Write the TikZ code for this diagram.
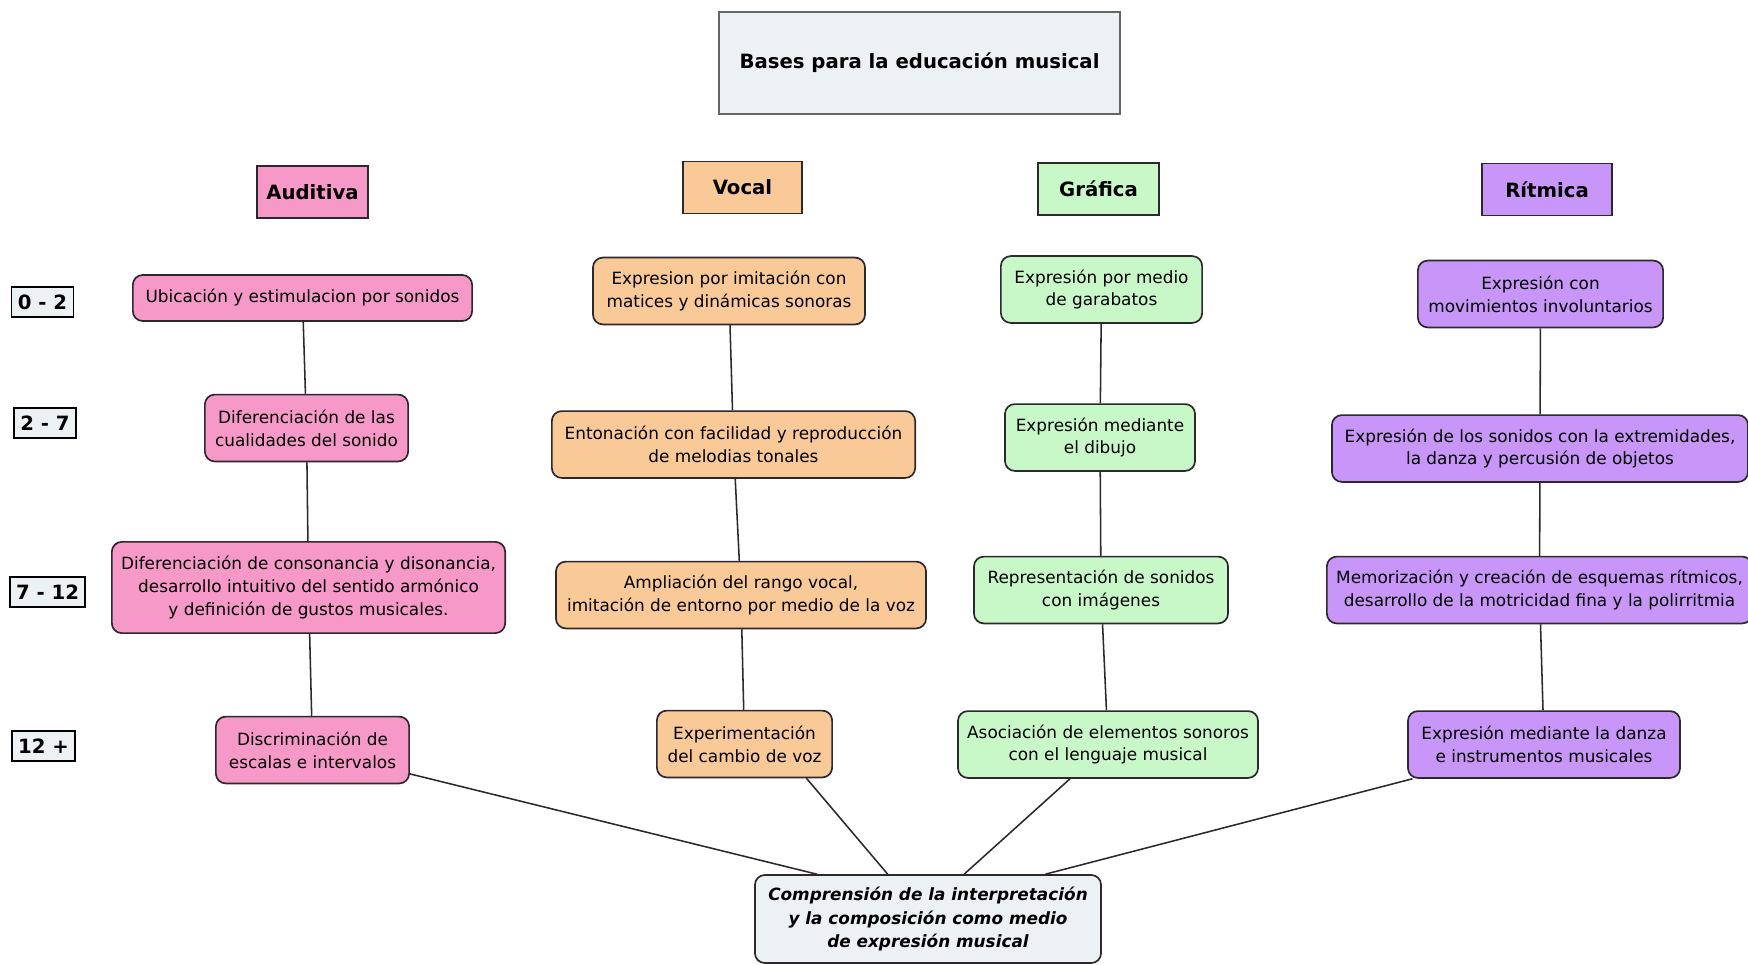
\documentclass[tikz,border=0pt]{standalone}
\usepackage{fontspec}
\setmainfont{DejaVu Sans}
\usetikzlibrary{calc}
\definecolor{carnation}{RGB}{247, 153, 200}
\definecolor{apricot}{RGB}{250, 201, 152}
\definecolor{mint}{RGB}{200, 247, 200}
\definecolor{lavender}{RGB}{200, 150, 248}
\definecolor{cloud}{RGB}{236, 242, 244}
\definecolor{ink}{RGB}{45, 40, 45}

\begin{document}
\begin{tikzpicture}[x=0.025cm, y=-0.025cm,
    box/.style={draw=ink, line width=1.2pt, rounded corners=7pt, align=center,
                inner xsep=4pt, inner ysep=2pt, minimum height=1.67cm,
                font=\fontsize{12}{16.2}\selectfont},
    head/.style={draw=ink, line width=1.2pt, align=center, minimum height=1.3cm,
                 font=\fontsize{14}{16}\selectfont\bfseries},
    age/.style={draw=black, line width=1.2pt, fill=cloud, minimum height=0.75cm,
                inner xsep=4.5pt, font=\fontsize{14}{16}\selectfont\bfseries},
    link/.style={draw=ink, line width=1.1pt}]
            \path[use as bounding box] (0,0) rectangle (1748,965);
            \clip (0,0) rectangle (1748,965);

            \node[head, fill=cloud, draw=gray!80!black, minimum width=10.03cm, minimum height=2.55cm,
                  font=\fontsize{14}{16}\selectfont\bfseries] (bases) at (919.5,  63.0) {Bases para la educación musical};

            \node[head, fill=carnation, minimum width=2.78cm] (auditiva) at ( 312.5, 192.0) {Auditiva};
            \node[head, fill=apricot,   minimum width=2.98cm] (vocal)    at ( 742.5, 187.5) {Vocal};
            \node[head, fill=mint,      minimum width=3.03cm] (grafica)  at (1098.5, 189.0) {Gráfica};
            \node[head, fill=lavender,  minimum width=3.25cm] (ritmica)  at (1547.0, 189.5) {Rítmica};

            \node[age] (e02)  at (42.5, 302.0) {0 - 2};
            \node[age] (e27)  at (45.0, 423.0) {2 - 7};
            \node[age] (e712) at (47.5, 592.0) {7 - 12};
            \node[age] (e12)  at (43.5, 746.0) {12 +};

            \node[box, fill=carnation, minimum width=8.48cm, minimum height=1.15cm] (a1) at (302.5, 298.0)
                 {Ubicación y estimulacion por sonidos};
            \node[box, fill=carnation, minimum width=5.08cm] (a2) at (306.5, 428.0)
                 {Diferenciación de las\\cualidades del sonido};
            \node[box, fill=carnation, minimum width=9.83cm, minimum height=2.28cm] (a3) at (308.5, 587.5)
                 {Diferenciación de consonancia y disonancia,\\desarrollo intuitivo del sentido armónico\\y definición de gustos musicales.};
            \node[box, fill=carnation, minimum width=4.83cm] (a4) at (312.5, 750.0)
                 {Discriminación de\\escalas e intervalos};

            \node[box, fill=apricot, minimum width=6.80cm] (v1) at (729.0, 291.0)
                 {Expresion por imitación con\\matices y dinámicas sonoras};
            \node[box, fill=apricot, minimum width=9.08cm] (v2) at (733.5, 444.5)
                 {Entonación con facilidad y reproducción\\de melodias tonales};
            \node[box, fill=apricot, minimum width=9.25cm] (v3) at (741.0, 595.0)
                 {Ampliación del rango vocal,\\imitación de entorno por medio de la voz};
            \node[box, fill=apricot, minimum width=4.38cm] (v4) at (744.5, 744.0)
                 {Experimentación\\del cambio de voz};

            \node[box, fill=mint, minimum width=5.03cm] (g1) at (1101.5, 289.5)
                 {Expresión por medio\\de garabatos};
            \node[box, fill=mint, minimum width=4.75cm] (g2) at (1100.0, 437.5)
                 {Expresión mediante\\el dibujo};
            \node[box, fill=mint, minimum width=6.35cm] (g3) at (1101.0, 590.0)
                 {Representación de sonidos\\con imágenes};
            \node[box, fill=mint, minimum width=7.50cm] (g4) at (1108.0, 744.5)
                 {Asociación de elementos sonoros\\con el lenguaje musical};

            \node[box, fill=lavender, minimum width=6.13cm]  (r1) at (1540.5, 294.0)
                 {Expresión con\\movimientos involuntarios};
            \node[box, fill=lavender, minimum width=10.40cm] (r2) at (1540.0, 448.5)
                 {Expresión de los sonidos con la extremidades,\\la danza y percusión de objetos};
            \node[box, fill=lavender, minimum width=10.63cm] (r3) at (1539.5, 590.0)
                 {Memorización y creación de esquemas rítmicos,\\desarrollo de la motricidad fina y la polirritmia};
            \node[box, fill=lavender, minimum width=6.80cm]  (r4) at (1544.0, 744.5)
                 {Expresión mediante la danza\\e instrumentos musicales};

            \node[box, fill=cloud, minimum width=8.65cm, minimum height=2.2cm,
                  font=\fontsize{12}{16.5}\selectfont\bfseries\itshape] (comp) at (928.0, 919.0)
                 {Comprensión de la interpretación\\y la composición como medio\\de expresión musical};

            \draw[link] (a1) -- (a2) -- (a3) -- (a4);
            \draw[link] (v1) -- (v2) -- (v3) -- (v4);
            \draw[link] (g1) -- (g2) -- (g3) -- (g4);
            \draw[link] (r1) -- (r2) -- (r3) -- (r4);

            \draw[link] (a4) -- ($(comp.north west)!0.180!(comp.north east)$);
            \draw[link] ($(v4.south west)!0.85!(v4.south east)$) -- ($(comp.north west)!0.384!(comp.north east)$);
            \draw[link] (g4) -- ($(comp.north west)!0.604!(comp.north east)$);
            \draw[link] (r4) -- ($(comp.north west)!0.838!(comp.north east)$);
        \end{tikzpicture}
\end{document}
